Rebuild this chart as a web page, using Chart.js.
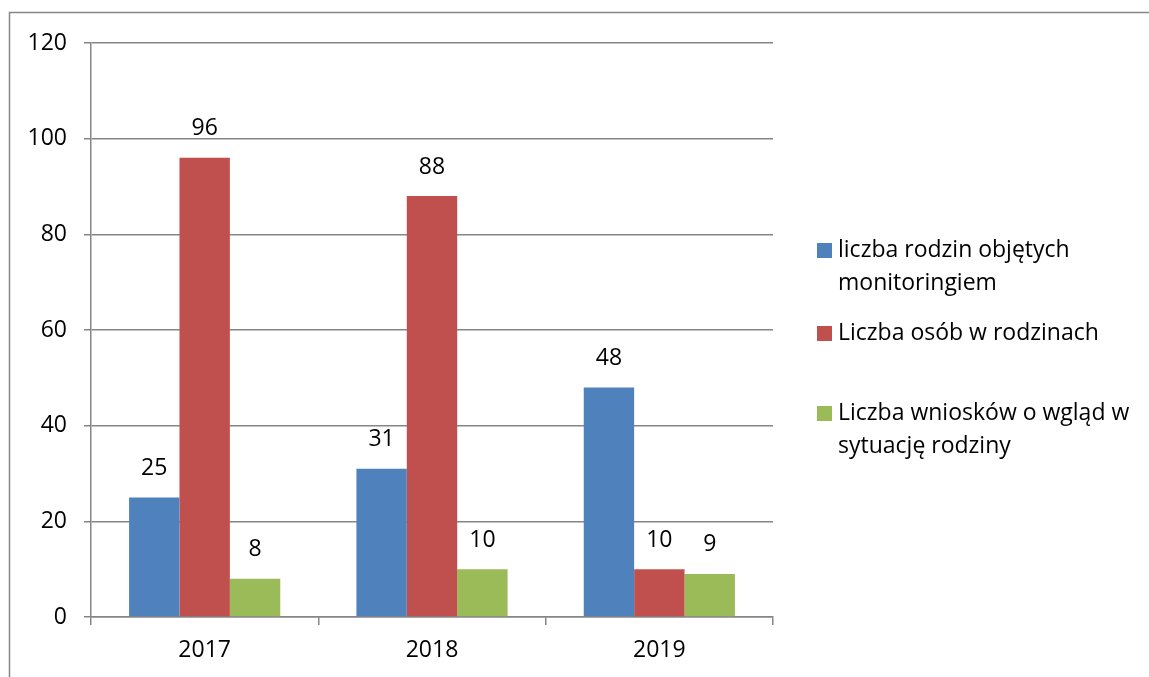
<!DOCTYPE html>
<html>
<head>
<meta charset="utf-8">
<script src="https://cdn.jsdelivr.net/npm/chart.js@4"></script>
<style>
  html, body { margin: 0; padding: 0; background: #fff; }
  #wrap { width: 1149px; height: 677px; position: relative; }
</style>
</head>
<body>
<div id="wrap"><canvas id="chart"></canvas></div>
<script>
// data
const years = ['2017', '2018', '2019'];
const rodziny = [25, 31, 48];
const osoby = [96, 88, 10];
const wnioski = [8, 10, 9];
const seriesNames = [
  'liczba rodzin objętych monitoringiem',
  'Liczba osób w rodzinach',
  'Liczba wniosków o wgląd w sytuację rodziny'
];
// legend text as it wraps in the picture
const legendLines = [
  ['liczba rodzin objętych', 'monitoringiem'],
  ['Liczba osób w rodzinach'],
  ['Liczba wniosków o wgląd w', 'sytuację rodziny']
];
const yTicks = [0, 20, 40, 60, 80, 100, 120];

const FONT = '"Open Sans", Lato, sans-serif';
const COLORS = ['#4F81BD', '#C0504D', '#9BBB59'];
const GRID = '#868686';

// outer frame of the chart object
const frame = {
  id: 'frame',
  beforeDraw(chart) {
    const ctx = chart.ctx;
    ctx.save();
    ctx.fillStyle = '#fff';
    ctx.fillRect(0, 0, chart.width, chart.height);
    ctx.strokeStyle = GRID;
    ctx.lineWidth = 1.5;
    ctx.strokeRect(9.5, 12.5, chart.width + 20, chart.height + 20);
    ctx.restore();
  }
};

// value labels above each bar
const valueLabels = {
  id: 'valueLabels',
  afterDatasetsDraw(chart) {
    const ctx = chart.ctx;
    ctx.save();
    ctx.font = '23px ' + FONT;
    ctx.fillStyle = '#000';
    ctx.textAlign = 'center';
    ctx.textBaseline = 'middle';
    chart.data.datasets.forEach((ds, i) => {
      chart.getDatasetMeta(i).data.forEach((bar, j) => {
        ctx.fillText(String(ds.data[j]), bar.x, bar.y - 29);
      });
    });
    ctx.restore();
  }
};

// legend on the right with wrapped entries
const sideLegend = {
  id: 'sideLegend',
  afterDraw(chart) {
    const ctx = chart.ctx;
    const tops = [250, 333, 413];
    ctx.save();
    ctx.font = '23px ' + FONT;
    ctx.textBaseline = 'middle';
    ctx.textAlign = 'left';
    legendLines.forEach((lines, i) => {
      ctx.fillStyle = COLORS[i];
      ctx.fillRect(817, tops[i] - 7, 15, 15);
      ctx.fillStyle = '#000';
      lines.forEach((t, k) => ctx.fillText(t, 838, tops[i] + k * 33));
    });
    ctx.restore();
  }
};

new Chart(document.getElementById('chart'), {
  type: 'bar',
  data: {
    labels: years,
    datasets: [rodziny, osoby, wnioski].map((d, i) => ({
      label: seriesNames[i],
      data: d,
      backgroundColor: COLORS[i],
      borderWidth: 0,
      barPercentage: 1,
      categoryPercentage: 0.665
    }))
  },
  options: {
    responsive: true,
    maintainAspectRatio: false,
    animation: false,
    layout: { padding: { left: 0, top: 43, right: 376, bottom: 0 } },
    plugins: {
      legend: { display: false },
      tooltip: { enabled: false }
    },
    scales: {
      x: {
        offset: true,
        grid: {
          offset: true,
          drawOnChartArea: false,
          drawTicks: true,
          tickLength: 8,
          color: GRID,
          lineWidth: 1.5
        },
        border: { color: GRID, width: 1.5 },
        ticks: { color: '#000', font: { family: FONT, size: 23 }, padding: 12 },
        afterFit(scale) { scale.height = 60; }
      },
      y: {
        min: 0,
        max: 120,
        afterBuildTicks(scale) { scale.ticks = yTicks.map(v => ({ value: v })); },
        grid: { color: GRID, lineWidth: 1.5, tickLength: 7 },
        border: { color: GRID, width: 1.5 },
        ticks: { color: '#000', font: { family: FONT, size: 23 }, padding: 17 },
        afterFit(scale) { scale.width = 91; }
      }
    }
  },
  plugins: [frame, valueLabels, sideLegend]
});
</script>
</body>
</html>
